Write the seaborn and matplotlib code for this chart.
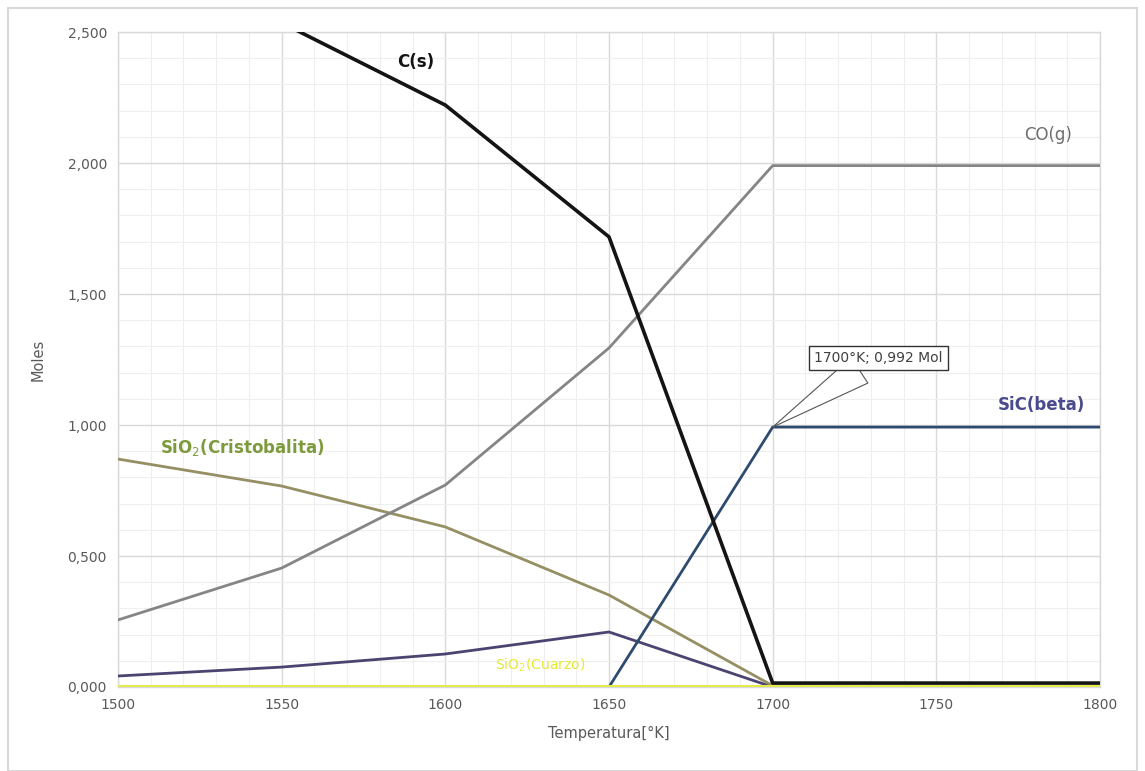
import matplotlib
matplotlib.use("Agg")
import matplotlib.pyplot as plt
import seaborn as sns
import numpy as np
import pandas as pd
from matplotlib.ticker import FuncFormatter, MultipleLocator
from matplotlib.patches import Rectangle

# Data
temperature = [1500, 1550, 1600, 1650, 1700, 1750, 1800]
c_s = [2.85, 2.535, 2.221, 1.718, 0.015, 0.015, 0.015]
co_g = [0.256, 0.454, 0.771, 1.294, 1.99, 1.99, 1.99]
sio2_cristobalita = [0.870, 0.767, 0.611, 0.351, 0.005, 0.0, 0.0]
sio_g = [0.042, 0.076, 0.126, 0.210, 0.0, 0.0, 0.0]
sic_beta = [np.nan, np.nan, np.nan, 0.0, 0.992, 0.992, 0.992]
sio2_cuarzo = [0.003, 0.003, 0.003, 0.003, 0.003, 0.003, 0.003]

series = [
    ("SiO(g)", sio_g, "#4b4470", 2.0),
    ("SiO2(Cristobalita)", sio2_cristobalita, "#958f63", 2.0),
    ("CO(g)", co_g, "#858585", 2.0),
    ("SiC(beta)", sic_beta, "#2e4a6e", 2.0),
    ("SiO2(Cuarzo)", sio2_cuarzo, "#e4ea4a", 2.2),
    ("C(s)", c_s, "#141414", 2.6),
]

sns.set_theme(style="white")
plt.rcParams['font.family'] = ['DejaVu Sans']

fig = plt.figure(figsize=(11.45, 7.71), dpi=100)
ax = fig.add_axes([118/1145, 1 - 687/771, (1100-118)/1145, (687-32)/771])

for name, vals, color, lw in series:
    df = pd.DataFrame({"T": temperature, "v": vals})
    sns.lineplot(data=df, x="T", y="v", ax=ax, color=color, linewidth=lw,
                 clip_on=True, zorder=3)

ax.set_xlim(1500, 1800)
ax.set_ylim(0, 2.5)
ax.xaxis.set_major_locator(MultipleLocator(50))
ax.xaxis.set_minor_locator(MultipleLocator(10))
ax.yaxis.set_major_locator(MultipleLocator(0.5))
ax.yaxis.set_minor_locator(MultipleLocator(0.1))
ax.grid(which="major", color="#d9d9d9", linewidth=1.0, zorder=0)
ax.grid(which="minor", color="#efefef", linewidth=0.8, zorder=0)
ax.set_axisbelow(True)
for s in ax.spines.values():
    s.set_color("#d9d9d9")
    s.set_linewidth(1.0)

ax.yaxis.set_major_formatter(FuncFormatter(lambda v, p: f"{v:.3f}".replace(".", ",")))
ax.tick_params(axis="both", which="both", length=0, labelsize=10, labelcolor="#595959", pad=8)
ax.set_xlabel("Temperatura[°K]", fontsize=10.5, color="#595959", labelpad=10)
ax.set_ylabel("Moles", fontsize=10.5, color="#595959")
ax.yaxis.set_label_coords(-0.074, 0.5)

# Series labels
ax.text(1591, 2.385, "C(s)", fontsize=12, fontweight="bold", color="#141414", ha="center", va="center")
ax.text(1784, 2.107, "CO(g)", fontsize=12, color="#6e6e6e", ha="center", va="center")
ax.text(1782, 1.076, "SiC(beta)", fontsize=12, fontweight="bold", color="#4a4a8c", ha="center", va="center")
ax.text(1538, 0.916, "SiO$_2$(Cristobalita)", fontsize=12, fontweight="bold", color="#7d9a3c", ha="center", va="center")
ax.text(1629, 0.084, "SiO$_2$(Cuarzo)", fontsize=10, color="#e6ea30", ha="center", va="center")

ax.annotate("1700°K; 0,992 Mol", xy=(1700, 0.992), xytext=(1732.3, 1.256),
            fontsize=10, color="#404040", ha="center", va="center",
            bbox=dict(boxstyle="square,pad=0.35", fc="white", ec="#333333", lw=1.0),
            arrowprops=dict(arrowstyle="wedge,tail_width=2.2", fc="white", ec="#555555", lw=0.8,
                            shrinkA=0, shrinkB=0),
            zorder=5)

# Outer chart frame
fig.patches.append(Rectangle((8/1145, 0.0), (1137-8)/1145, 1 - 8/771 - 0.0,
                             transform=fig.transFigure, fill=False, ec="#d9d9d9", lw=1.5))

fig.savefig("out.png", dpi=100)
